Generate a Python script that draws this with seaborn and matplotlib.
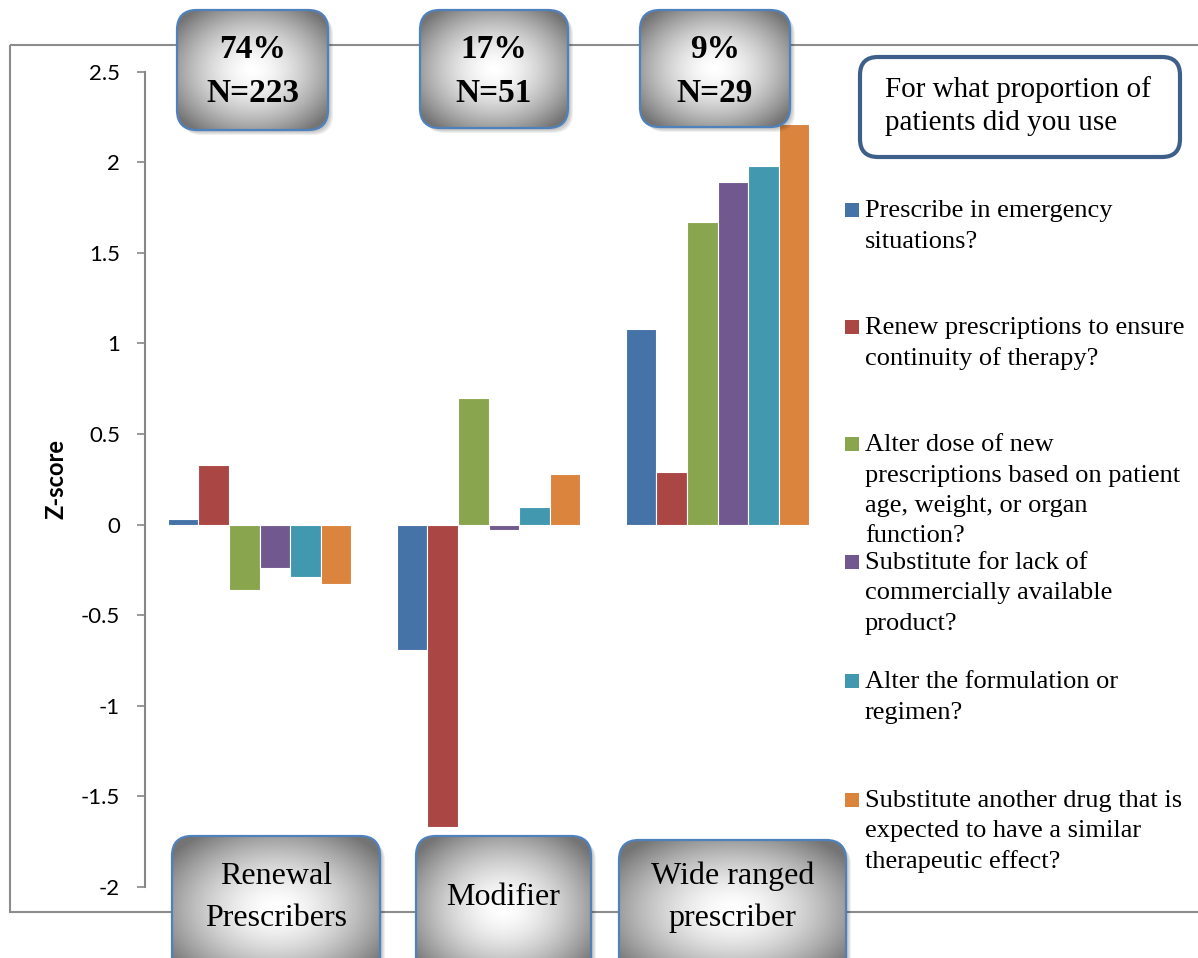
import numpy as np
import pandas as pd
import matplotlib
matplotlib.use("Agg")
import matplotlib.pyplot as plt
from matplotlib.patches import FancyBboxPatch, Rectangle
import seaborn as sns

# prescriber groups (x categories) and the text shown in the boxes
groups = ["Renewal Prescribers", "Modifier", "Wide ranged prescriber"]
group_labels = ["Renewal\nPrescribers", "Modifier", "Wide ranged\nprescriber"]
shares = ["74%", "17%", "9%"]
counts = ["N=223", "N=51", "N=29"]

# survey items (hue)
items = [
    "Prescribe in emergency situations?",
    "Renew prescriptions to ensure continuity of therapy?",
    "Alter dose of new prescriptions based on patient age, weight, or organ function?",
    "Substitute for lack of commercially available product?",
    "Alter the formulation or regimen?",
    "Substitute another drug that is expected to have a similar therapeutic effect?",
]
item_labels = [
    "Prescribe in emergency\nsituations?",
    "Renew prescriptions to ensure\ncontinuity of therapy?",
    "Alter dose of new\nprescriptions based on patient\nage, weight, or organ\nfunction?",
    "Substitute for lack of\ncommercially available\nproduct?",
    "Alter the formulation or\nregimen?",
    "Substitute another drug that is\nexpected to have a similar\ntherapeutic effect?",
]
colors = ["#4572A7", "#AA4643", "#89A54E", "#71588F", "#4198AF", "#DB843D"]

# z-scores per group, one per item
z_renewal = [0.03, 0.33, -0.36, -0.24, -0.29, -0.33]
z_modifier = [-0.69, -1.67, 0.70, -0.03, 0.10, 0.28]
z_wide = [1.08, 0.29, 1.67, 1.89, 1.98, 2.21]

df = pd.DataFrame({
    "group": np.repeat(groups, len(items)),
    "item": items * len(groups),
    "z": z_renewal + z_modifier + z_wide,
})

sns.set_style("white")
plt.rcParams["axes.unicode_minus"] = False
plt.rcParams["font.family"] = ["Lato", "DejaVu Sans"]
plt.rcParams["text.color"] = "black"
plt.rcParams["ytick.color"] = "black"

W, H = 1198, 958
fig = plt.figure(figsize=(W / 100, H / 100), dpi=100)
ax = fig.add_axes([145 / W, 1 - 887 / H, 687 / W, (887 - 71.7) / H])
ax.set_zorder(1)

sns.barplot(data=df, x="group", y="z", hue="item", order=groups, hue_order=items,
            palette=colors, saturation=1, width=0.8, edgecolor="white",
            linewidth=0.8, legend=False, ax=ax)

ax.set_ylim(-2, 2.5)
ax.set_xlim(-0.5, 2.5)
yt = np.arange(-2, 2.51, 0.5)
ax.set_yticks(yt)
ax.set_yticklabels([f"{v:g}" for v in yt], fontsize=16)
ax.tick_params(axis="y", left=True, length=6, width=1.2, color="#868686",
               labelcolor="black", pad=12)
ax.set_xticks([])
ax.set_xlabel("")
ax.set_ylabel("")
for s in ["top", "right", "bottom"]:
    ax.spines[s].set_visible(False)
ax.spines["left"].set_color("#868686")
ax.spines["left"].set_linewidth(1.5)

fig.text(56 / W, 1 - 479 / H, "Z-score", rotation=90, ha="center", va="center",
         fontsize=17, fontweight="bold", color="black")

# overlay in pixel coordinates for the boxes and legend
ov = fig.add_axes([0, 0, 1, 1])
ov.set_zorder(2)
ov.axis("off")

ov.add_patch(Rectangle((10, 45), 1300, 867, fc="none", ec="#8C8C8C", lw=1.5, zorder=1))

serif = ["Liberation Serif", "DejaVu Serif"]


def shaded_box(x0, y0, x1, y1, z=5):
    w, h = x1 - x0, y1 - y0
    style = "round,pad=0,rounding_size=20"
    for k in range(4):
        ov.add_patch(FancyBboxPatch((x0 + 2 + k, y0 + 2 + k), w, h, boxstyle=style,
                                    fc="black", ec="none", alpha=0.06, zorder=z))
    clip = FancyBboxPatch((x0, y0), w, h, boxstyle=style, fc="none", ec="none", zorder=z + 1)
    ov.add_patch(clip)
    yy, xx = np.mgrid[-1:1:200j, -1:1:200j]
    r = np.clip(np.sqrt(xx ** 2 + yy ** 2), 0, 1.25)
    shade = 1 - 0.38 * r ** 1.6
    im = ov.imshow(shade, cmap="gray", vmin=0, vmax=1, extent=(x0, x1, y1, y0),
                   aspect="auto", interpolation="bilinear", zorder=z + 1)
    im.set_clip_path(clip)
    ov.add_patch(FancyBboxPatch((x0, y0), w, h, boxstyle=style, fc="none",
                                ec="#4F81BD", lw=1.6, zorder=z + 2))


def lines_at(x, y0, text, step, **kw):
    for i, line in enumerate(text.split("\n")):
        ov.text(x, y0 + i * step, line, va="baseline", family=serif, color="black",
                zorder=10, **kw)


top_boxes = [(177, 10, 328, 130), (420, 10, 568, 128), (640, 10, 790, 127)]
for (x0, y0, x1, y1), sh, n in zip(top_boxes, shares, counts):
    shaded_box(x0, y0, x1, y1)
    lines_at((x0 + x1) / 2, 58, sh + "\n" + n, 44, ha="center", fontsize=24, fontweight="bold")

bottom_boxes = [(172, 836, 380, 980), (416, 836, 591, 980), (619, 840, 846, 980)]
for (x0, y0, x1, y1), lab in zip(bottom_boxes, group_labels):
    shaded_box(x0, y0, x1, y1)
    base = 905 if "\n" not in lab else 884
    lines_at((x0 + x1) / 2, base, lab, 42, ha="center", fontsize=23)

# question box
ov.add_patch(FancyBboxPatch((860, 57), 320, 100, boxstyle="round,pad=0,rounding_size=18",
                            fc="white", ec="#3E5F8A", lw=3, zorder=5))
lines_at(885, 97, "For what proportion of\npatients did you use", 33, ha="left", fontsize=21)

# legend
baselines = [217, 334, 451, 569, 688, 807]
for c, lab, b in zip(colors, item_labels, baselines):
    ov.add_patch(Rectangle((845, b - 14), 14, 14, fc=c, ec="none", zorder=6))
    lines_at(865, b, lab, 30.5, ha="left", fontsize=19)

ov.set_xlim(0, W)
ov.set_ylim(H, 0)

fig.savefig("out.png", dpi=100)
